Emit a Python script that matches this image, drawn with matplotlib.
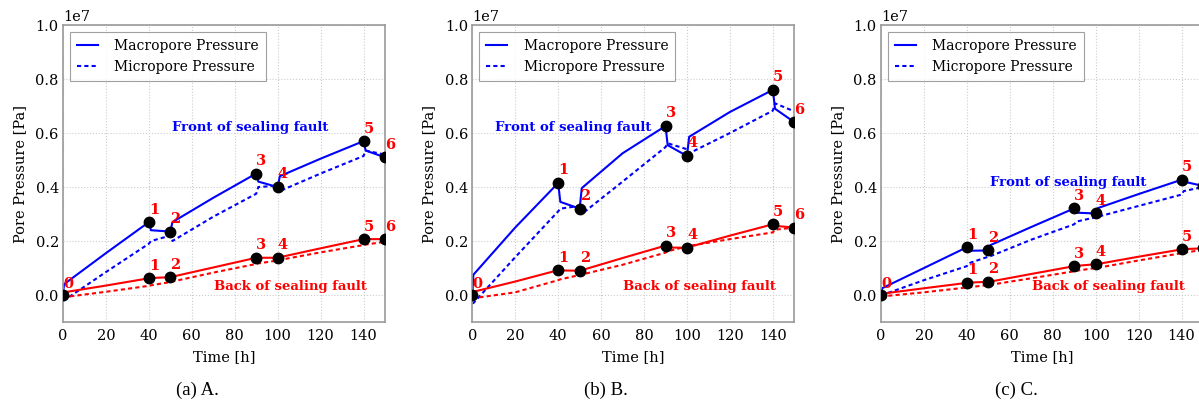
import matplotlib
matplotlib.use("Agg")
import matplotlib.pyplot as plt

plt.rcParams['font.family'] = ['DejaVu Serif']
plt.rcParams['font.size'] = 10

# time grid [h] (jumps at the start of each stage)
t = [0, 0.5, 20, 40, 41, 50, 51, 70, 90, 91, 100, 101, 120, 140, 141, 150]
stage_idx = [3, 5, 8, 10, 13, 15]   # t = 40, 50, 90, 100, 140, 150

# pore pressure, units of 1e7 Pa
# case A
a_front_macro = [0.0, 0.04, 0.155, 0.27, 0.24, 0.235, 0.27, 0.36, 0.45, 0.42, 0.40, 0.44, 0.505, 0.57, 0.535, 0.51]
a_front_micro = [-0.02, -0.02, 0.085, 0.19, 0.20, 0.22, 0.20, 0.29, 0.375, 0.40, 0.405, 0.385, 0.45, 0.515, 0.535, 0.52]
a_back_macro = [0.01, 0.01, 0.035, 0.062, 0.063, 0.066, 0.068, 0.102, 0.138, 0.138, 0.138, 0.14, 0.173, 0.207, 0.207, 0.207]
a_back_micro = [-0.008, -0.008, 0.012, 0.034, 0.036, 0.048, 0.05, 0.083, 0.115, 0.117, 0.128, 0.13, 0.158, 0.185, 0.187, 0.197]
# case B
b_front_macro = [0.0, 0.075, 0.25, 0.415, 0.345, 0.32, 0.396, 0.525, 0.626, 0.555, 0.515, 0.586, 0.678, 0.76, 0.69, 0.64]
b_front_micro = [-0.03, -0.03, 0.14, 0.31, 0.32, 0.33, 0.30, 0.42, 0.548, 0.562, 0.54, 0.525, 0.60, 0.683, 0.71, 0.68]
b_back_macro = [0.01, 0.012, 0.05, 0.092, 0.091, 0.09, 0.092, 0.137, 0.183, 0.176, 0.175, 0.178, 0.22, 0.262, 0.256, 0.25]
b_back_micro = [-0.01, -0.012, 0.01, 0.055, 0.058, 0.074, 0.076, 0.112, 0.157, 0.162, 0.18, 0.182, 0.207, 0.232, 0.242, 0.25]
# case C
c_front_macro = [0.0, 0.025, 0.10, 0.177, 0.164, 0.165, 0.185, 0.252, 0.321, 0.305, 0.302, 0.322, 0.374, 0.427, 0.42, 0.404]
c_front_micro = [0.0, 0.0, 0.055, 0.107, 0.118, 0.142, 0.144, 0.205, 0.262, 0.272, 0.288, 0.29, 0.33, 0.372, 0.385, 0.40]
c_back_macro = [0.005, 0.005, 0.025, 0.045, 0.046, 0.049, 0.05, 0.078, 0.107, 0.108, 0.114, 0.115, 0.142, 0.169, 0.17, 0.173]
c_back_micro = [-0.005, -0.005, 0.01, 0.028, 0.029, 0.037, 0.038, 0.062, 0.088, 0.09, 0.10, 0.101, 0.128, 0.155, 0.156, 0.168]

captions = ["(a) A.", "(b) B.", "(c) C."]


def draw_panel(ax, fmac, fmic, bmac, bmic, front_xy, back_xy):
    e7 = 1e7
    dash = (0, (2, 1.5))
    ax.plot(t, [v * e7 for v in fmac], color='blue', lw=1.5, label='Macropore Pressure')
    ax.plot(t, [v * e7 for v in fmic], color='blue', lw=1.5, linestyle=dash, label='Micropore Pressure')
    ax.plot(t, [v * e7 for v in bmac], color='red', lw=1.5)
    ax.plot(t, [v * e7 for v in bmic], color='red', lw=1.5, linestyle=dash)

    # stage markers + numbers
    ax.plot([0], [0], 'o', color='black', ms=7.5, zorder=5)
    ax.annotate('0', (0, 0), xytext=(0, 3), textcoords='offset points',
                color='red', fontweight='bold', fontsize=10.5, ha='left', va='bottom')
    for series in (fmac, bmac):
        for k, i in enumerate(stage_idx):
            ax.plot(t[i], series[i] * e7, 'o', color='black', ms=7.5, zorder=5)
            ax.annotate(str(k + 1), (t[i], series[i] * e7), xytext=(0, 4),
                        textcoords='offset points', color='red',
                        fontweight='bold', fontsize=10.5, ha='left', va='bottom')

    ax.text(front_xy[0], front_xy[1] * e7, 'Front of sealing fault', color='blue',
            fontweight='bold', fontsize=9.5, ha='center', va='center')
    ax.text(back_xy[0], back_xy[1] * e7, 'Back of sealing fault', color='red',
            fontweight='bold', fontsize=9.5, ha='center', va='center')

    ax.set_xlim(0, 150)
    ax.set_ylim(-0.1e7, 1.0e7)
    ax.set_xticks(range(0, 141, 20))
    ax.set_yticks([0, 0.2e7, 0.4e7, 0.6e7, 0.8e7, 1.0e7])
    ax.grid(True, color='#cccccc', linestyle=':', lw=0.8)
    ax.tick_params(length=0, labelsize=10.5)
    ax.tick_params(axis='y', pad=3)
    ax.tick_params(axis='x', pad=5)
    ax.yaxis.get_offset_text().set_fontsize(10.5)
    for s in ax.spines.values():
        s.set_color('#999999')
        s.set_linewidth(1.2)
    ax.set_xlabel('Time [h]', fontsize=10.5, labelpad=5)
    ax.set_ylabel('Pore Pressure [Pa]', fontsize=10.5, labelpad=6)
    leg = ax.legend(loc='upper left', fancybox=False, edgecolor='#888888',
                    handlelength=1.5, handletextpad=1.2, borderpad=0.5,
                    borderaxespad=0.5)
    leg.get_frame().set_linewidth(0.8)


fig = plt.figure(figsize=(11.99, 4.07), dpi=100)
lefts = [0.0525, 0.3939, 0.7348]
panels = [
    (a_front_macro, a_front_micro, a_back_macro, a_back_micro, (87, 0.62), (106, 0.033)),
    (b_front_macro, b_front_micro, b_back_macro, b_back_micro, (47, 0.62), (106, 0.033)),
    (c_front_macro, c_front_micro, c_back_macro, c_back_micro, (87, 0.416), (106, 0.033)),
]
cap_x = [197, 606, 1016]
for left, p, cx, cap in zip(lefts, panels, cap_x, captions):
    ax = fig.add_axes([left, 0.2088, 0.2686, 0.7297])
    draw_panel(ax, *p)
    fig.text(cx / 1199, 1 - 390 / 407, cap, family='Liberation Serif',
             fontsize=13.5, ha='center', va='center')

fig.savefig('out.png', dpi=100)
